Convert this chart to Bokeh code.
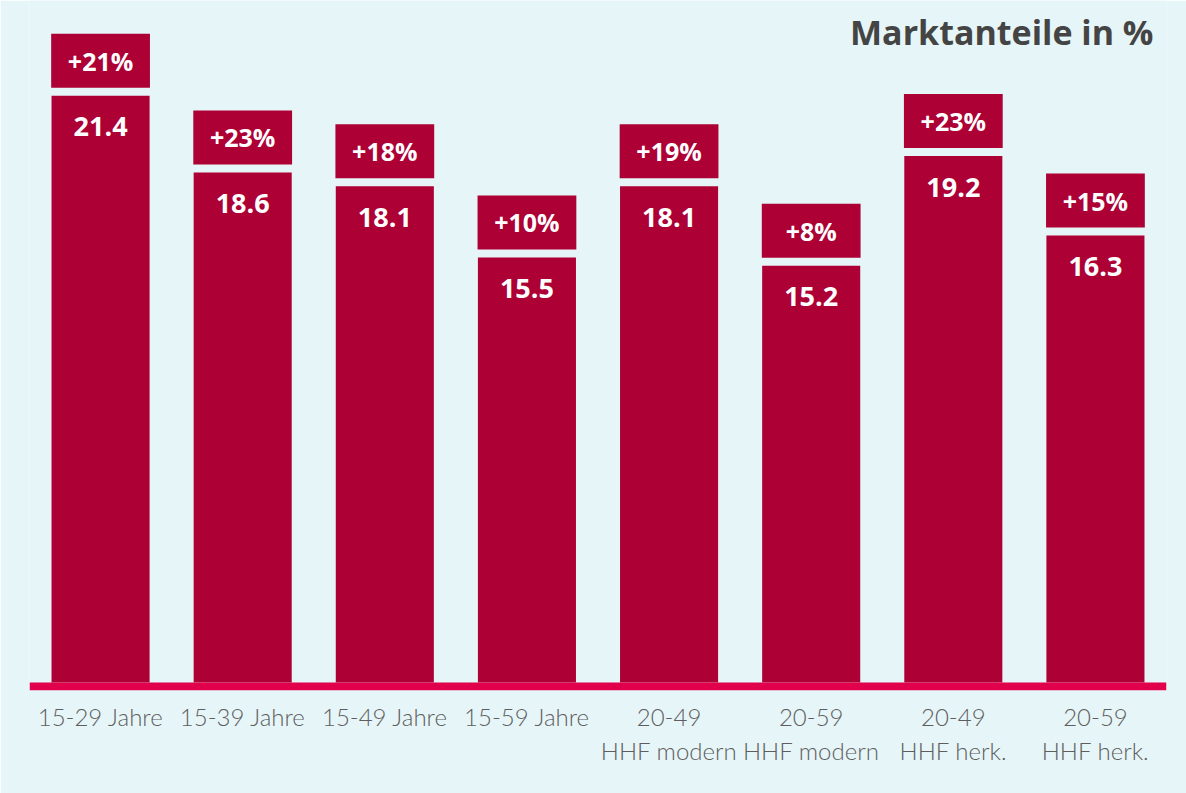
import numpy as np
from bokeh.plotting import figure
from bokeh.models import ColumnDataSource, Range1d, FactorRange, Span, Label
from bokeh.core.properties import value
from bokeh.embed import file_html
from bokeh.resources import INLINE

# ---- data ----
categories = ["15-29 Jahre", "15-39 Jahre", "15-49 Jahre", "15-59 Jahre",
              "20-49\nHHF modern", "20-59\nHHF modern", "20-49\nHHF herk.", "20-59\nHHF herk."]
shares = [21.4, 18.6, 18.1, 15.5, 18.1, 15.2, 19.2, 16.3]
growth = ["+21%", "+23%", "+18%", "+10%", "+19%", "+8%", "+23%", "+15%"]
title_text = "Marktanteile in %"

# ---- style ----
BG = "#e6f5f7"
BAR = "#ad0035"
LINE = "#e0004b"
PX = 27.42          # pixels per data unit on the y axis
FRAME_H = 690
ZERO_FROM_BOTTOM = 8

vals = np.array(shares)
src = ColumnDataSource(dict(
    cat=categories,
    val=vals,
    val_txt=[f"{v:.1f}" for v in vals],
    g_txt=growth,
    box_bottom=vals + 8 / PX,
    box_top=vals + (8 + 54) / PX,
    g_y=vals + (8 + 27) / PX,
    v_y=vals - 31 / PX,
))

y0 = -ZERO_FROM_BOTTOM / PX
y1 = (FRAME_H - ZERO_FROM_BOTTOM) / PX

p = figure(width=1186, height=793, x_range=FactorRange(*categories),
           y_range=Range1d(y0, y1), output_backend="svg", toolbar_location=None,
           title=None)
p.min_border = 0
p.min_border_left = 29
p.min_border_right = 20
p.min_border_top = 0
p.min_border_bottom = 793 - FRAME_H
p.background_fill_color = BG
p.border_fill_color = BG
p.outline_line_color = None
p.grid.visible = False
p.yaxis.visible = False

ax = p.xaxis[0]
ax.axis_line_color = None
ax.major_tick_line_color = None
ax.minor_tick_line_color = None
ax.major_tick_out = 0
ax.major_tick_in = 0
ax.major_label_standoff = 11
ax.major_label_text_font = "Lato Light"
ax.major_label_text_font_size = "24px"
ax.major_label_text_color = "#5e5e5e"
ax.major_label_text_line_height = 1.2

# baseline
p.add_layout(Span(location=-4 / PX, dimension="width", line_color=LINE, line_width=8))

# bars
p.vbar(x="cat", top="val", bottom=0, width=0.69, source=src,
       fill_color=BAR, line_color=None)
# growth boxes
p.vbar(x="cat", top="box_top", bottom="box_bottom", width=0.695, source=src,
       fill_color=BAR, line_color=None)

p.text(x="cat", y="g_y", text="g_txt", source=src, text_align="center",
       text_baseline="middle", text_color="white", text_font=value("Open Sans"),
       text_font_style="bold", text_font_size="25px")
p.text(x="cat", y="v_y", text="val_txt", source=src, text_align="center",
       text_baseline="middle", text_color="white", text_font=value("Open Sans"),
       text_font_style="bold", text_font_size="27px")

p.add_layout(Label(x=len(categories), y=(FRAME_H - ZERO_FROM_BOTTOM - 31) / PX,
                   x_offset=-13, text=title_text, text_align="right",
                   text_baseline="middle", text_font="Open Sans",
                   text_font_style="bold", text_font_size="34px",
                   text_color="#444444"))

open("out.html", "w").write(file_html(p, INLINE))
